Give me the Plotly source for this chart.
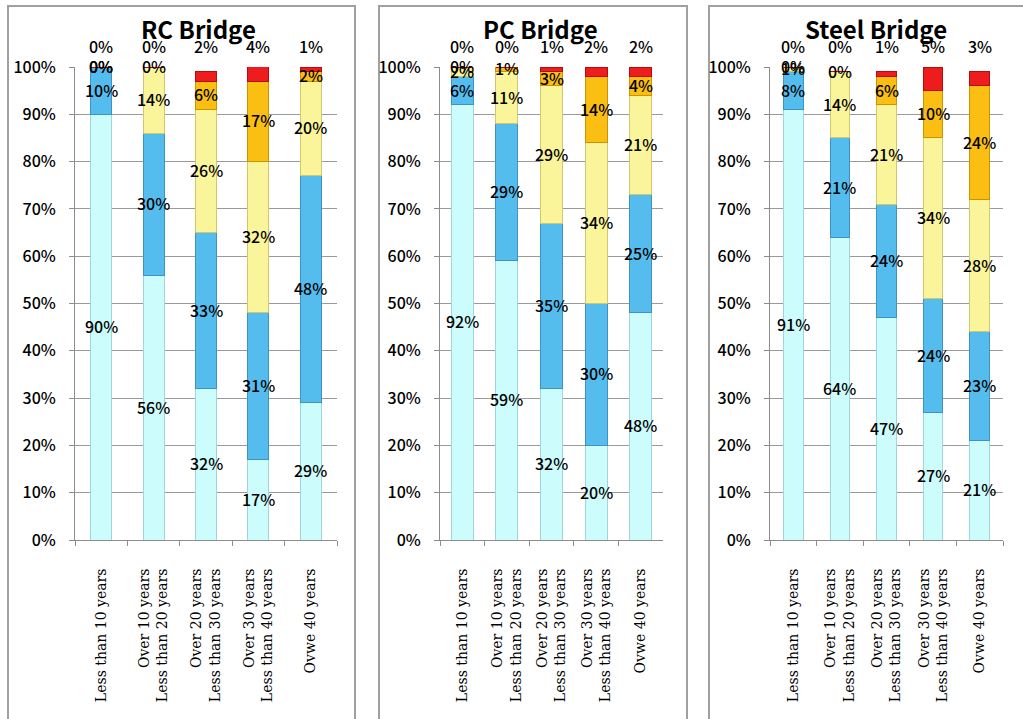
import plotly.graph_objects as go

W, H = 1023, 719

categories = [
    "Less than 10 years",
    "Over 10 years<br>Less than 20 years",
    "Over 20 years<br>Less than 30 years",
    "Over 30 years<br>Less than 40 years",
    "Ovwe 40 years",
]
titles = ["RC Bridge", "PC Bridge", "Steel Bridge"]

# series values (percent), bottom to top: cyan, blue, yellow, orange, red
rc_cyan = [90, 56, 32, 17, 29]
rc_blue = [10, 30, 33, 31, 48]
rc_yellow = [0, 14, 26, 32, 20]
rc_orange = [0, 0, 6, 17, 2]
rc_red = [0, 0, 2, 4, 1]

pc_cyan = [92, 59, 32, 20, 48]
pc_blue = [6, 29, 35, 30, 25]
pc_yellow = [2, 11, 29, 34, 21]
pc_orange = [0, 1, 3, 14, 4]
pc_red = [0, 0, 1, 2, 2]

st_cyan = [91, 64, 47, 27, 21]
st_blue = [8, 21, 24, 24, 23]
st_yellow = [1, 14, 21, 34, 28]
st_orange = [0, 0, 6, 10, 24]
st_red = [0, 0, 1, 5, 3]

panels = [
    [rc_cyan, rc_blue, rc_yellow, rc_orange, rc_red],
    [pc_cyan, pc_blue, pc_yellow, pc_orange, pc_red],
    [st_cyan, st_blue, st_yellow, st_orange, st_red],
]

fill_colors = ["#CCFCFC", "#55BDEE", "#FAF59A", "#FBBE12", "#EE1C1C"]
edge_colors = ["#9FD6DC", "#3C93C4", "#CFC86C", "#C99400", "#B80C0C"]

SANS = "Noto Sans CJK JP"

# layout geometry (pixels)
plot_x = [(75, 337), (440, 663), (770, 1003)]
plot_y = (67, 540)
bar_widths = [0.40, 0.49, 0.42]
title_x = [198, 540, 876]
box_x = [(8, 355), (379, 687), (709, 1040)]

def px(x):
    return x / W

def py(y):
    return 1 - y / H

fig = go.Figure()
annotations = []
shapes = []

for p, series in enumerate(panels):
    xa = "x" if p == 0 else f"x{p + 1}"
    ya = "y" if p == 0 else f"y{p + 1}"
    cum = [0] * len(categories)
    for s, vals in enumerate(series):
        fig.add_trace(go.Bar(
            x=categories, y=vals, xaxis=xa, yaxis=ya,
            marker=dict(color=fill_colors[s], line=dict(color=edge_colors[s], width=1)),
            width=bar_widths[p], showlegend=False, hoverinfo="skip",
        ))
        for i, v in enumerate(vals):
            top = s == len(series) - 1
            ypos = 100 if top else cum[i] + v / 2
            annotations.append(dict(
                x=categories[i], y=ypos, xref=xa, yref=ya, text=f"{v}%",
                yshift=21 if top else 1,
                xanchor="center", yanchor="middle",
                showarrow=False, font=dict(size=16, color="#000000",
                                           family=SANS, weight=500),
            ))
            cum[i] += v
    annotations.append(dict(
        x=px(title_x[p]), y=py(29), xref="paper", yref="paper",
        xanchor="center", yanchor="middle",
        text=titles[p], showarrow=False,
        font=dict(size=24, color="#000000", family=SANS, weight=600),
    ))
    shapes.append(dict(
        type="rect", xref="paper", yref="paper",
        x0=px(box_x[p][0]), x1=px(box_x[p][1]), y0=py(760), y1=py(6),
        line=dict(color="#A0A0A0", width=2), fillcolor="rgba(0,0,0,0)", layer="below",
    ))

layout = dict(
    width=W, height=H, margin=dict(l=0, r=0, t=0, b=0),
    paper_bgcolor="white", plot_bgcolor="white",
    barmode="stack", bargap=0.5,
    annotations=annotations, shapes=shapes,
)

for p in range(3):
    xk = "xaxis" if p == 0 else f"xaxis{p + 1}"
    yk = "yaxis" if p == 0 else f"yaxis{p + 1}"
    ya = "y" if p == 0 else f"y{p + 1}"
    xa = "x" if p == 0 else f"x{p + 1}"
    layout[xk] = dict(
        domain=[px(plot_x[p][0]), px(plot_x[p][1])], anchor=ya,
        type="category", tickangle=-90, tickson="boundaries",
        ticks="outside", ticklen=5, tickcolor="#8C8C8C",
        showline=True, linecolor="#8C8C8C", linewidth=1,
        showgrid=False, ticklabelstandoff=22, automargin=False,
        tickfont=dict(family="DejaVu Serif", size=14, color="#000000"),
        fixedrange=True,
    )
    layout[yk] = dict(
        domain=[py(plot_y[1]), py(plot_y[0])], anchor=xa,
        range=[0, 100], dtick=10, ticksuffix="%",
        ticks="outside", ticklen=5, tickcolor="#8C8C8C",
        showline=True, linecolor="#8C8C8C", linewidth=1,
        showgrid=True, gridcolor="#9A9A9A", gridwidth=1,
        zeroline=False, ticklabelstandoff=10, automargin=False,
        tickfont=dict(family=SANS, size=16, color="#000000", weight=500),
        fixedrange=True,
    )

fig.update_layout(**layout)
fig.write_html("out.html")
